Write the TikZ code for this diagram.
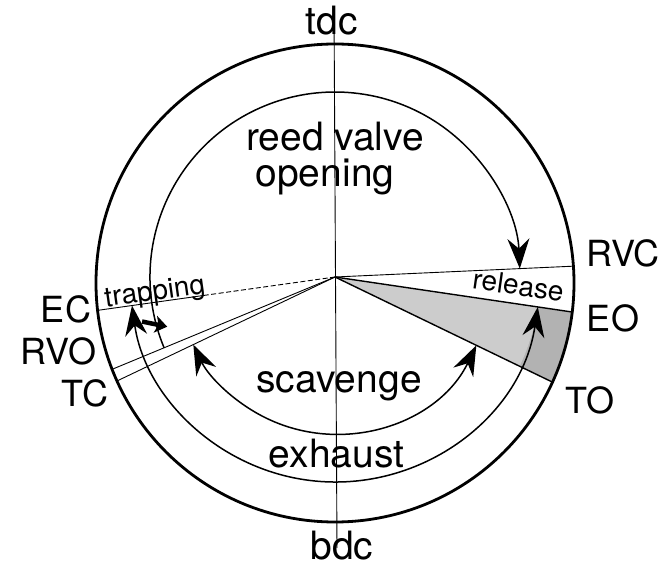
\documentclass[tikz,border=0pt]{standalone}
\usepackage{fontspec}
\setmainfont{TeX Gyre Heros}
\usetikzlibrary{arrows.meta,calc}
\begin{document}
\begin{tikzpicture}[x=1pt,y=1pt,
  >={Stealth[length=30pt,width=22pt,inset=10pt]},
  ray/.style={line width=0.9pt},
  edge/.style={line width=1.4pt},
  phase/.style={line width=1.5pt},
  word/.style={font=\fontsize{39}{40}\selectfont, inner sep=0pt, anchor=base},
  event/.style={font=\fontsize{36}{38}\selectfont, inner sep=0pt, anchor=base},
  small/.style={font=\fontsize{28}{30}\selectfont, inner sep=0pt, anchor=base}]
\useasboundingbox (0,0) rectangle (665,566);
\coordinate (C) at (335,289);   % hub of the timing rays
\coordinate (O) at (335,283);   % centre of the crank circle
\def\R{239}

% timing sectors and rays, trimmed at the crank circle
\begin{scope}
  \clip (O) circle (\R);
  \fill[gray!60] (C) -- ($(C)+(-8.4:400)$) -- ($(C)+(-25.8:400)$) -- cycle;
  \fill[gray!40, shift={(C)}] (0,0) -- (-8.4:205) arc[start angle=-8.4, end angle=-25.8, radius=205] -- cycle;
  \draw[ray]  (C) -- ($(C)+(2.6:400)$);
  \draw[edge] (C) -- ($(C)+(-8.4:400)$);
  \draw[edge] (C) -- ($(C)+(-25.8:400)$);
  \draw[ray]  ($(C)+(188:129)$) -- ($(C)+(188:400)$);
  \draw[ray, dash pattern=on 5pt off 2.5pt] (C) -- ($(C)+(188:129)$);
  \draw[ray]  (C) -- ($(C)+(202.5:400)$);
  \draw[ray]  (C) -- ($(C)+(205.5:400)$);
\end{scope}

% dead-centre axis
\coordinate (top) at (334,559);
\coordinate (bot) at (337,18);
\draw[line width=0.9pt] (top) -- (bot);

% crank circle
\draw[line width=2.8pt] (O) circle (\R);

% phase arcs
\draw[phase, ->, shift={(C)}] (202.5:185) arc[start angle=202.5, end angle=2.6, radius=185];
\draw[phase, <->, shift={(C)}] (-8.4:205) arc[start angle=-8.4, end angle=-172, radius=205];
\draw[phase, <->, shift={(C)}] (-25.8:157) arc[start angle=-25.8, end angle=-154.5, radius=157];
\draw[line width=4.5pt, -{Stealth[length=12pt,width=17pt,inset=3pt]}]
  ($(C)+(193:198)$) -- ($(C)+(196.5:175)$);

% labels
\node[word] (tdc) at (331.5,531) {tdc};
\node[word] (bdc) at (342,7) {bdc};
\node[event] (rvc) at (623,299) {RVC};
\node[event] (eo)  at (613,234) {EO};
\node[event] (to)  at (590,153) {TO};
\node[event] (ec)  at (66,243) {EC};
\node[event] (rvo) at (58.5,201) {RVO};
\node[event] (tc)  at (85,159) {TC};
\node[word] (reed) at (335,415) {reed valve};
\node[word] (open) at (325,379) {opening};
\node[word] (scav) at (339,173) {scavenge};
\node[word] (exh)  at (336.5,99) {exhaust};
\node[small, rotate=-8] (rel)  at (517,271) {release};
\node[small, rotate=8]  (trap) at (156,266) {trapping};
\end{tikzpicture}
\end{document}
